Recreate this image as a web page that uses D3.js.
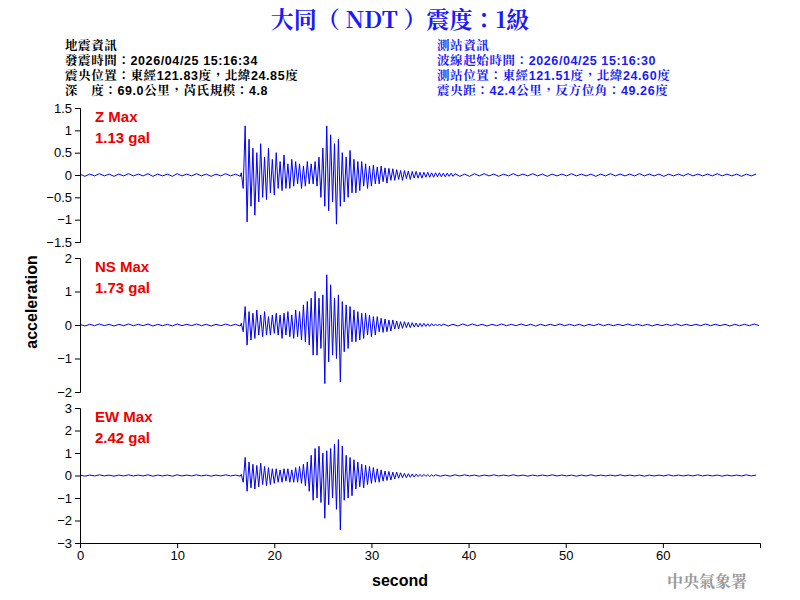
<!DOCTYPE html>
<html><head><meta charset="utf-8">
<script src="https://cdn.jsdelivr.net/npm/d3@7"></script>
<style>body{margin:0;background:#fff}</style></head>
<body><svg id="c" width="800" height="600"></svg>
<script>
const title = "大同（ NDT ）震度：1級";
const leftInfo = ["地震資訊","發震時間：2026/04/25 15:16:34","震央位置：東經121.83度，北緯24.85度","深　度：69.0公里，芮氏規模：4.8"];
const rightInfo = ["測站資訊","波線起始時間：2026/04/25 15:16:30","測站位置：東經121.51度，北緯24.60度","震央距：42.4公里，反方位角：49.26度"];
const channels = ["Z","NS","EW"];
const maxLabels = ["1.13 gal","1.73 gal","2.42 gal"];
const yTicks = [[-1.5,-1,-0.5,0,0.5,1,1.5],[-2,-1,0,1,2],[-3,-2,-1,0,1,2,3]];
const xTicks = [0,10,20,30,40,50,60];
const preNoise = [0.02,-0.03,0.02,-0.02,0.03,-0.02,0.02,-0.03,0.02,-0.02,0.03,-0.02,0.02,-0.02,0.03,-0.03,0.02,-0.02,0.02,-0.03,0.03,-0.02,0.02,-0.02,0.03,-0.02,0.02,-0.03,0.02,-0.02,0.03,-0.02,0.02,-0.03];
const postNoise = [0.03,-0.03,0.02,-0.03,0.03,-0.02,0.03,-0.02,0.02,-0.03,0.02,-0.02,0.03,-0.02,0.02,-0.02,0.03,-0.02,0.02,-0.03,0.02,-0.02,0.02,-0.02,0.03,-0.02,0.02,-0.02,0.02,-0.03,0.02,-0.02,0.03,-0.02,0.02,-0.02,0.02,-0.02,0.03,-0.02,0.02,-0.02,0.02,-0.03,0.02,-0.02,0.02,-0.02,0.03,-0.02,0.02,-0.02,0.02,-0.02,0.03,-0.02,0.02,-0.02,0.02,-0.03,0.02,-0.02,0.02,-0.02,0.03,-0.02,0.02,-0.03,0.02,-0.02];
const zWave = [0.05,-0.3,1.1,-1.05,0.8,-0.7,0.6,-0.9,0.5,-0.6,0.7,-0.5,0.4,-0.55,0.6,-0.4,0.35,-0.45,0.5,-0.3,
0.3,-0.35,0.45,-0.3,0.25,-0.3,0.35,-0.25,0.3,-0.2,0.25,-0.3,0.2,-0.25,0.3,-0.2,0.25,-0.2,0.3,-0.25,0.4,-0.5,0.6,-0.7,
1.1,-0.8,0.9,-0.6,0.7,-1.1,0.8,-0.7,0.5,-0.6,0.4,-0.5,0.55,-0.4,0.35,-0.4,
0.3,-0.35,0.3,-0.25,0.25,-0.3,0.2,-0.25,0.22,-0.2,0.18,-0.2,0.2,-0.15,0.16,-0.18,0.15,-0.12,0.14,-0.12,
0.12,-0.1,0.1,-0.12,0.1,-0.08,0.09,-0.1,0.08,-0.07,0.08,-0.07,0.06,-0.07,0.06,-0.05,0.06,-0.05,0.05,-0.05,
0.05,-0.04,0.05,-0.04,0.04,-0.04,0.04,-0.03,0.04,-0.03];
const nsWave = [0.05,-0.2,0.55,-0.6,0.4,-0.45,0.35,-0.4,0.45,-0.3,0.3,-0.35,0.4,-0.3,0.25,-0.3,0.3,-0.25,0.35,-0.3,
0.3,-0.4,0.35,-0.3,0.4,-0.35,0.3,-0.4,0.45,-0.35,0.4,-0.45,0.6,-0.5,0.7,-0.6,0.8,-0.9,1.0,-0.9,0.8,-0.7,0.9,-1.75,
1.5,-1.1,1.2,-0.9,0.8,-1.0,0.9,-1.7,0.7,-0.8,0.6,-0.7,0.55,-0.5,0.45,-0.5,0.4,-0.45,0.35,-0.4,
0.35,-0.3,0.3,-0.35,0.25,-0.3,0.25,-0.2,0.2,-0.22,0.18,-0.2,0.15,-0.18,0.15,-0.12,0.12,-0.12,0.1,-0.1,
0.1,-0.08,0.08,-0.08,0.07,-0.06,0.06,-0.06,0.05,-0.05,0.05,-0.04,0.04,-0.04,0.04,-0.03,0.03,-0.03,0.03,-0.03];
const ewWave = [0.05,-0.3,0.8,-0.7,0.6,-0.55,0.5,-0.6,0.45,-0.5,0.55,-0.4,0.4,-0.45,0.35,-0.4,0.3,-0.35,0.3,-0.3,
0.25,-0.3,0.3,-0.25,0.3,-0.3,0.25,-0.3,0.35,-0.3,0.4,-0.35,0.5,-0.45,0.6,-0.7,0.9,-1.1,1.2,-1.0,1.3,-1.2,1.0,-1.9,
1.1,-1.3,1.2,-1.0,1.4,-1.5,1.6,-2.42,1.3,-1.1,0.9,-1.0,0.8,-0.9,0.7,-0.6,
0.6,-0.5,0.5,-0.55,0.45,-0.4,0.4,-0.35,0.35,-0.3,0.3,-0.3,0.25,-0.25,0.2,-0.22,0.18,-0.2,0.15,-0.15,
0.15,-0.12,0.12,-0.1,0.1,-0.1,0.08,-0.08,0.07,-0.07,0.06,-0.05,0.05,-0.05,0.05,-0.04,0.04,-0.04,0.03,-0.03];
const waves = [zWave,nsWave,ewWave];

const svg = d3.select("#c");
const F = "Arial, 'Liberation Sans', sans-serif";
const CJK = "'Noto Serif CJK TC','Noto Sans CJK TC', sans-serif";
const INFO = "Arial,'Noto Serif CJK TC','Noto Sans CJK TC', sans-serif";
svg.append("text").attr("x",400).attr("y",28).attr("text-anchor","middle").attr("fill","#1a1aff")
  .attr("font-family",CJK).attr("font-weight","bold").attr("font-size",23).text(title);
leftInfo.forEach((t,i)=>svg.append("text").attr("x",65).attr("y",50+i*15).attr("font-family",INFO).attr("font-weight","bold").attr("font-size",12.5).attr("letter-spacing",0.6).attr("fill","#000").text(t));
rightInfo.forEach((t,i)=>svg.append("text").attr("x",437).attr("y",50+i*15).attr("font-family",INFO).attr("font-weight","bold").attr("font-size",12.5).attr("letter-spacing",0.6).attr("fill","#1a1aff").text(t));

const x = d3.scaleLinear().domain([0,70]).range([80,760]);
const panels = [[108,242],[258,392],[408,543]];
panels.forEach((p,k)=>{
  const ext = yTicks[k][yTicks[k].length-1];
  const y = d3.scaleLinear().domain([-ext,ext]).range([p[1],p[0]]);
  const pts = [];
  preNoise.forEach((v,i)=>pts.push([i*0.5,v]));
  waves[k].forEach((v,i)=>pts.push([16.6+i*0.2,v]));
  const t0 = 16.6+waves[k].length*0.2;
  postNoise.forEach((v,i)=>{const t=t0+i*0.5; if(t<=70) pts.push([t,v]);});
  svg.append("path").datum(pts).attr("fill","none").attr("stroke","#0000ff").attr("stroke-width",1)
    .attr("d",d3.line().x(d=>x(d[0])).y(d=>y(d[1])));
  const ax = svg.append("g").attr("transform","translate(80,0)").call(d3.axisLeft(y).tickValues(yTicks[k]).tickFormat(d3.format("~g")).tickSize(5));
  ax.selectAll("text").attr("font-family",F).attr("font-size",13).attr("fill","#000");
  svg.append("text").attr("x",95).attr("y",p[0]+14).attr("fill","#e00").attr("font-family",F).attr("font-size",15).attr("font-weight","bold").text(channels[k]+" Max");
  svg.append("text").attr("x",95).attr("y",p[0]+35).attr("fill","#e00").attr("font-family",F).attr("font-size",15).attr("font-weight","bold").text(maxLabels[k]);
});
const xa = svg.append("g").attr("transform","translate(0,543)").call(d3.axisBottom(x).tickValues(xTicks).tickSize(5));
xa.selectAll("text").attr("font-family",F).attr("font-size",13);
svg.append("text").attr("x",400).attr("y",586).attr("text-anchor","middle").attr("font-family",F).attr("font-size",16).attr("font-weight","bold").text("second");
svg.append("text").attr("transform","translate(37,302) rotate(-90)").attr("text-anchor","middle").attr("font-family",F).attr("font-size",16).attr("font-weight","bold").text("acceleration");
svg.append("text").attr("x",747).attr("y",587).attr("text-anchor","end").attr("font-family",CJK).attr("font-size",16).attr("font-weight","bold").attr("fill","#999").text("中央氣象署");
</script></body></html>
